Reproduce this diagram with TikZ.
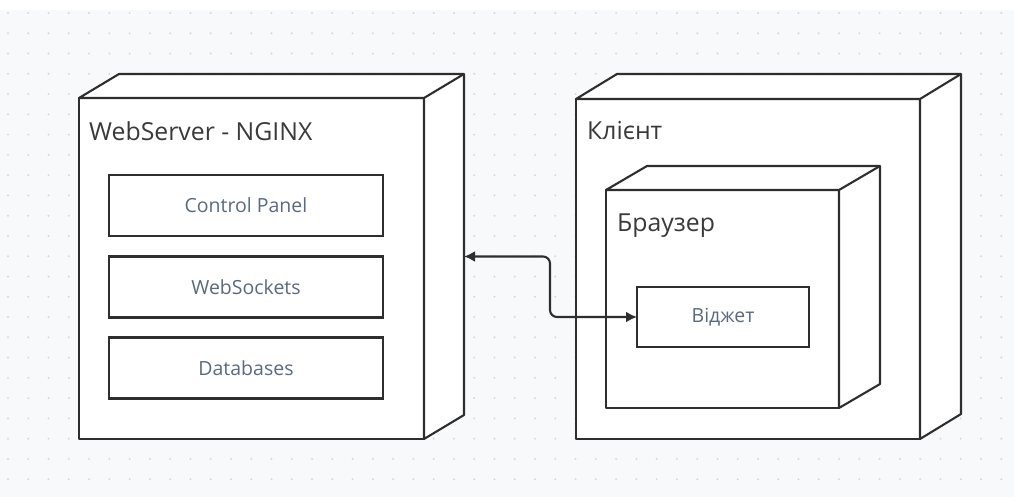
\documentclass[tikz,border=0pt]{standalone}
\usepackage{fontspec}
\setmainfont{Open Sans}
\usetikzlibrary{arrows.meta}
\definecolor{bgc}{HTML}{F8F9FB}
\definecolor{dotc}{HTML}{D6D8DE}
\definecolor{linec}{HTML}{2E2E2E}
\definecolor{titlec}{HTML}{3A3A3A}
\definecolor{innerc}{HTML}{5A6A80}
\tikzset{
  face/.style={draw=linec, line width=2.1pt, fill=white, line join=round},
  frontbox/.style={face, rectangle, inner sep=0pt, outer sep=0pt},
  compbox/.style={draw=linec, line width=2.1pt, fill=white, rectangle, inner sep=0pt, outer sep=0pt,
    text=innerc, font=\fontsize{19.5}{22}\selectfont},
  titletext/.style={anchor=base west, inner sep=0pt, text=titlec, font=\fontsize{24.8}{28}\selectfont},
  link/.style={draw=linec, line width=2.1pt, rounded corners=7pt, {Latex[length=11pt,width=11pt]}-{Latex[length=11pt,width=11pt]}}
}
\newcommand{\depthbox}[2]{%
  \draw[face] (#1.north west) -- ([shift={#2}]#1.north west) -- ([shift={#2}]#1.north east)
    -- ([shift={#2}]#1.south east) -- (#1.south east) -- (#1.north east) -- cycle;
  \draw[face, fill=none] (#1.north east) -- ([shift={#2}]#1.north east);
}
\begin{document}
\begin{tikzpicture}[x=1pt,y=-1pt]
\useasboundingbox (0,0) rectangle (1014,497);
\fill[white] (0,0) rectangle (1014,497);
\fill[bgc] (0,10) rectangle (1014,497);
\foreach \i in {0,...,49}{
  \foreach \j in {0,...,23}{
    \fill[dotc] ({8+20.27*\i},{13+20.27*\j}) circle (1.1pt);
  }
}
% WebServer node
\node[frontbox, minimum width=345pt, minimum height=341pt] (ws) at (251.5,268.5) {};
\depthbox{ws}{(40,-24)}
\node[titletext] (wst) at (89,141) {WebServer - NGINX};
\node[compbox, minimum width=274pt, minimum height=61pt] (cp) at (246,205.5) {Control Panel};
\node[compbox, minimum width=274pt, minimum height=61pt] (wsk) at (246,287) {WebSockets};
\node[compbox, minimum width=274pt, minimum height=61pt] (db) at (246,368) {Databases};
% Client node
\node[frontbox, minimum width=344pt, minimum height=340pt] (cl) at (748,269) {};
\depthbox{cl}{(41,-25)}
\node[titletext] (clt) at (587,140) {Клієнт};
% Browser node
\node[frontbox, minimum width=233pt, minimum height=218pt] (br) at (722.5,299) {};
\depthbox{br}{(41,-24)}
\node[titletext] (brt) at (617,231) {Браузер};
\node[compbox, minimum width=172pt, minimum height=60pt] (wg) at (723,317) {Віджет};
% connector
\coordinate (wsE) at (464,256.5);
\draw[link] (wsE) -- (550,256.5) |- (wg.west);
\end{tikzpicture}
\end{document}
